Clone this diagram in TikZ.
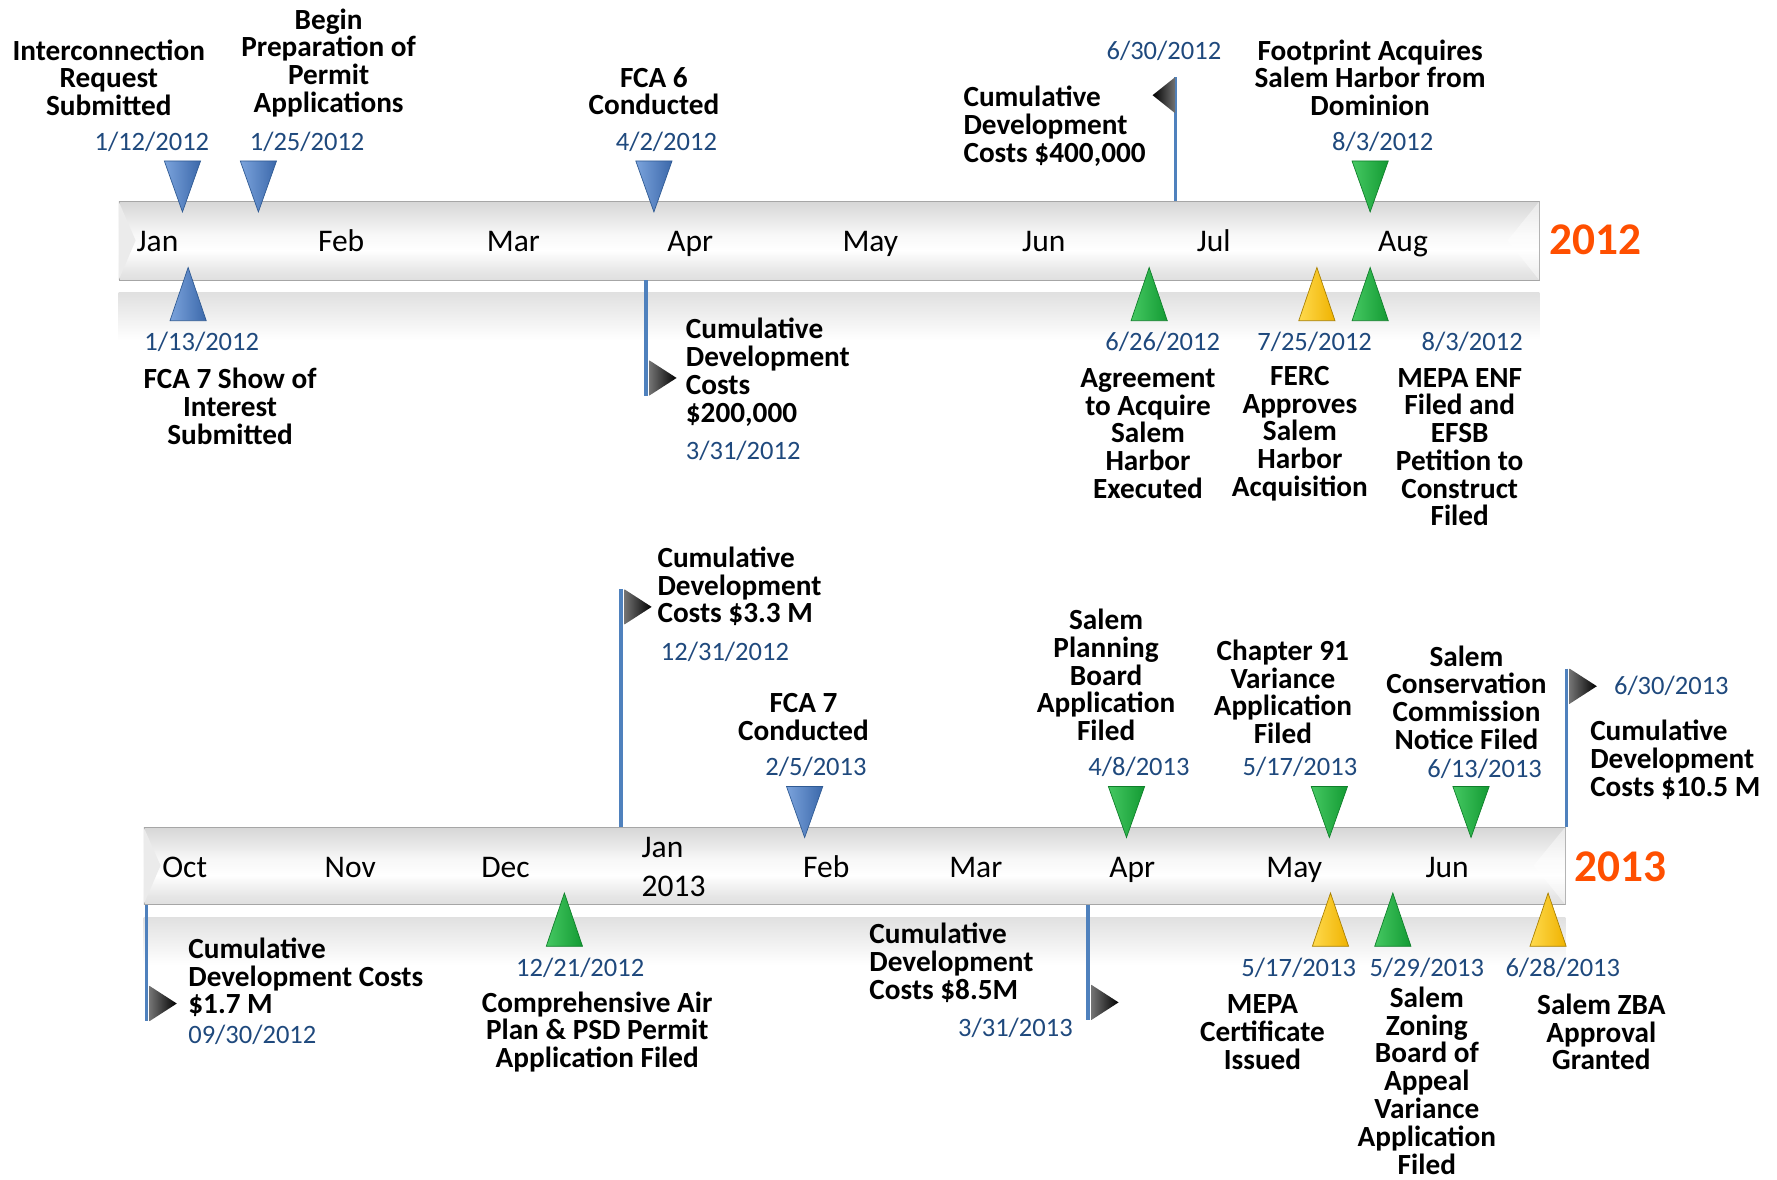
\documentclass[tikz,border=0pt]{standalone}
\usepackage{fontspec}
\setmainfont{Carlito}
\usepackage{tikz}
\definecolor{tlDate}{HTML}{1F497D}
\definecolor{tlYear}{HTML}{FF4F00}
\definecolor{tlPole}{HTML}{4F81BD}
\definecolor{mbL}{HTML}{7BA3DC}
\definecolor{mbD}{HTML}{3B68AA}
\definecolor{mbE}{HTML}{2F5A93}
\definecolor{mgL}{HTML}{45C862}
\definecolor{mgD}{HTML}{139A33}
\definecolor{mgE}{HTML}{0F7F2A}
\definecolor{myL}{HTML}{FFDA4D}
\definecolor{myD}{HTML}{EFB200}
\definecolor{myE}{HTML}{A87F00}
\pgfdeclareverticalshading{barshade}{100bp}{color(0bp)=(black!30); color(8bp)=(black!20);
  color(30bp)=(black!10); color(44bp)=(white); color(54bp)=(white!97!black);
  color(80bp)=(black!19); color(100bp)=(black!38)}

\tikzset{
  pics/dn/.style={code={\path[#1] (-16,0) -- (16,0) -- (0,45) -- cycle;}},
  pics/up/.style={code={\path[#1] (-16,0) -- (16,0) -- (0,-47) -- cycle;}},
  pics/flr/.style={code={\path[left color=black!55,right color=black] (0,0) -- (0,31) -- (24,15.5) -- cycle;}},
  pics/fll/.style={code={\path[left color=black,right color=black!55] (0,0) -- (0,32) -- (-20,16) -- cycle;}},
  mkb/.style={left color=mbL,right color=mbD,draw=mbE,line width=0.6pt},
  mkg/.style={left color=mgL,right color=mgD,draw=mgE,line width=0.6pt},
  mky/.style={left color=myL,right color=myD,draw=myE,line width=0.6pt}
}

\begin{document}
\begin{tikzpicture}[x=1pt,y=-1pt,
  lbl/.style={font=\fontsize{25.8}{24.5}\selectfont\bfseries,align=center,inner sep=0pt,yshift=-1.5pt},
  dt/.style={font=\fontsize{23.4}{28}\selectfont,text=tlDate,inner sep=0pt},
  mon/.style={font=\fontsize{27.8}{35}\selectfont,inner sep=0pt,text height=18pt,text depth=0pt},
  yr/.style={font=\fontsize{40}{40}\selectfont\bfseries,text=tlYear,inner sep=0pt},
  bar/.style={draw=black!35,line width=0.7pt,shading=barshade,minimum height=69pt,inner sep=0pt},
  band/.style={top color=black!12,bottom color=white,draw=none},
  pole/.style={draw=tlPole,line width=2.8pt}]
\useasboundingbox (0,0) rectangle (1568,1041);

% 2012 bar
\node[bar,minimum width=1253pt] (y12) at (731.5,212.5) {};
\fill[black!8] (y12.north west) -- ++(15,34.5) -- (y12.south west) -- cycle;
\fill[white,opacity=.45] (y12.north east) -- ++(-28,34.5) -- (y12.south east) -- cycle;
\fill[band] ([yshift=-11pt]y12.south west) rectangle ([yshift=-53pt]y12.south east);

\node[mon] (jan12) at (139,213) {Jan};
\node[mon] (feb12) at (301,213) {Feb};
\node[mon] (mar12) at (453,213) {Mar};
\node[mon] (apr12) at (609,213) {Apr};
\node[mon] (may12) at (768,213) {May};
\node[mon] (jun12) at (921,213) {Jun};
\node[mon] (jul12) at (1071,213) {Jul};
\node[mon] (aug12) at (1238,213) {Aug};
\node[yr] (yr12) at (1408,212) {2012};

% 2012 flags
\coordinate (p1) at (1037,68);
\draw[pole] (p1) -- (p1 |- y12.north);
\pic at (p1) {fll};
\coordinate (p2) at (570,349);
\draw[pole] (y12.south -| p2) -- (p2);
\pic at (573,318) {flr};

% 2012 markers
\pic at (161,142) {dn=mkb};
\pic at (228,142) {dn=mkb};
\pic at (577,142) {dn=mkb};
\pic at (1209,142) {dn=mkg};
\pic at (166,283) {up=mkb};
\pic at (1014,283) {up=mkg};
\pic at (1162,283) {up=mky};
\pic at (1209,283) {up=mkg};

% 2012 above
\node[lbl] (t1) at (96,67) {Interconnection\\Request\\Submitted};
\node[dt] (d1) at (134,125) {1/12/2012};
\node[lbl] (t2) at (290,54) {Begin\\Preparation of\\Permit\\Applications};
\node[dt] (d2) at (271,125) {1/25/2012};
\node[lbl] (t3) at (577,79) {FCA 6\\Conducted};
\node[dt] (d3) at (588,125) {4/2/2012};
\node[dt] (d5) at (1027,45) {6/30/2012};
\node[lbl,anchor=west,align=left] (t5) at (850,110) {Cumulative\\Development\\Costs \$400,000};
\node[lbl] (t4) at (1209,67) {Footprint Acquires\\Salem Harbor from\\Dominion};
\node[dt] (d4) at (1220,125) {8/3/2012};

% 2012 below
\node[dt] (d6) at (178,302) {1/13/2012};
\node[lbl] (t6) at (203,357) {FCA 7 Show of\\Interest\\Submitted};
\node[lbl,anchor=west,align=left] (t7) at (605,327) {Cumulative\\Development\\Costs\\\$200,000};
\node[dt,anchor=west] (d7) at (605,398) {3/31/2012};
\node[dt] (d8) at (1026,302) {6/26/2012};
\node[lbl] (t8) at (1013,381) {Agreement\\to Acquire\\Salem\\Harbor\\Executed};
\node[dt] (d9) at (1160,302) {7/25/2012};
\node[lbl] (t9) at (1147,381) {FERC\\Approves\\Salem\\Harbor\\Acquisition};
\node[dt] (d10) at (1299,302) {8/3/2012};
\node[lbl] (t10) at (1288,393) {MEPA ENF\\Filed and\\EFSB\\Petition to\\Construct\\Filed};

% 2013 bar
\node[bar,minimum width=1254pt,minimum height=68pt] (y13) at (754,764) {};
\fill[black!8] (y13.north west) -- ++(15,34) -- (y13.south west) -- cycle;
\fill[white,opacity=.45] (y13.north east) -- ++(-28,34) -- (y13.south east) -- cycle;
\fill[band] ([yshift=-11pt]y13.south west) rectangle ([yshift=-53pt]y13.south east);

\node[mon] (oct12) at (163,765) {Oct};
\node[mon] (nov12) at (309,765) {Nov};
\node[mon] (dec12) at (446,765) {Dec};
\node[font=\fontsize{27.8}{35}\selectfont,inner sep=0pt,anchor=west,align=left] (jan13) at (566,765) {Jan\\2013};
\node[mon] (feb13) at (729,765) {Feb};
\node[mon] (mar13) at (861,765) {Mar};
\node[mon] (apr13) at (999,765) {Apr};
\node[mon] (may13) at (1142,765) {May};
\node[mon] (jun13) at (1277,765) {Jun};
\node[yr] (yr13) at (1430,765) {2013};

% 2013 flags
\coordinate (p3) at (548,520);
\draw[pole] (p3) -- (p3 |- y13.north);
\pic at (551,520) {flr};
\coordinate (p4) at (1382,590);
\draw[pole] (p4) -- (p4 |- y13.north);
\pic at (1385,590) {flr};
\coordinate (p5) at (129,901);
\draw[pole] (y13.south -| p5) -- (p5);
\pic at (132,870) {flr};
\coordinate (p6) at (960,900);
\draw[pole] (y13.south -| p6) -- (p6);
\pic at (963,869) {flr};

% 2013 markers
\pic at (710,694) {dn=mkb};
\pic at (994,694) {dn=mkg};
\pic at (1173,694) {dn=mkg};
\pic at (1298,694) {dn=mkg};
\pic at (498,835) {up=mkg};
\pic at (1174,835) {up=mky};
\pic at (1229,835) {up=mkg};
\pic at (1366,835) {up=mky};

% 2013 above
\node[lbl,anchor=west,align=left] (t11) at (580,516) {Cumulative\\Development\\Costs \$3.3 M};
\node[dt,anchor=west] (d11) at (583,575) {12/31/2012};
\node[lbl] (t12) at (709,631) {FCA 7\\Conducted};
\node[dt] (d12) at (720,677) {2/5/2013};
\node[lbl] (t13) at (976,594) {Salem\\Planning\\Board\\Application\\Filed};
\node[dt] (d13) at (1005,677) {4/8/2013};
\node[lbl] (t14) at (1132,609) {Chapter 91\\Variance\\Application\\Filed};
\node[dt] (d14) at (1147,677) {5/17/2013};
\node[lbl] (t15) at (1294,614) {Salem\\Conservation\\Commission\\Notice Filed};
\node[dt] (d15) at (1310,678) {6/13/2013};
\node[dt,anchor=west] (d16) at (1424,605) {6/30/2013};
\node[lbl,anchor=west,align=left] (t16) at (1403,669) {Cumulative\\Development\\Costs \$10.5 M};

% 2013 below
\node[lbl,anchor=west,align=left] (t17) at (166,861) {Cumulative\\Development Costs\\\$1.7 M};
\node[dt,anchor=west] (d17) at (166,913) {09/30/2012};
\node[dt] (d18) at (512,854) {12/21/2012};
\node[lbl] (t18) at (527,909) {Comprehensive Air\\Plan \& PSD Permit\\Application Filed};
\node[lbl,anchor=west,align=left] (t19) at (767,848) {Cumulative\\Development\\Costs \$8.5M};
\node[dt] (d19) at (896,907) {3/31/2013};
\node[dt] (d20) at (1146,854) {5/17/2013};
\node[lbl] (t20) at (1114,909) {MEPA\\Certificate\\Issued};
\node[dt] (d21) at (1259,854) {5/29/2013};
\node[lbl] (t21) at (1259,952) {Salem\\Zoning\\Board of\\Appeal\\Variance\\Application\\Filed};
\node[dt] (d22) at (1379,854) {6/28/2013};
\node[lbl] (t22) at (1413,909) {Salem ZBA\\Approval\\Granted};
\end{tikzpicture}
\end{document}
